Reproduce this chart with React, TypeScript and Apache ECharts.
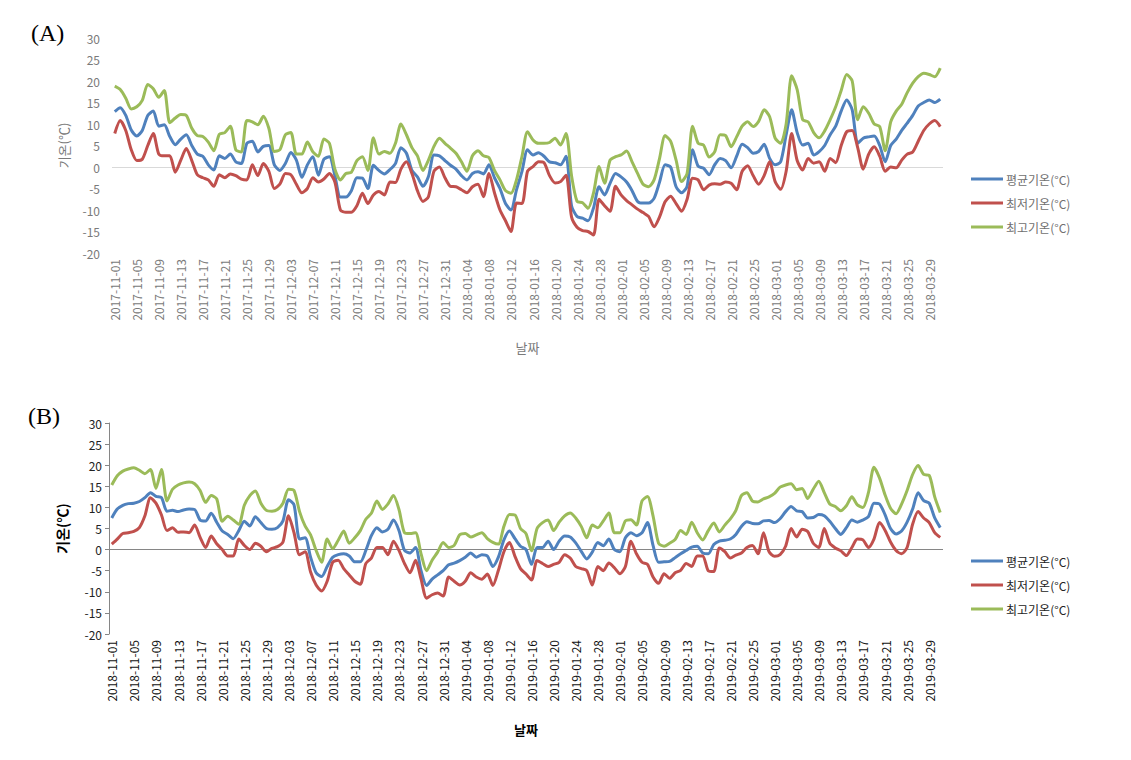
import React, { useEffect, useRef } from "react";
import * as echarts from "echarts";

// ---------- Data ----------
const startA = "2017-11-01";
const startB = "2018-11-01";
const dayCount = 151;
const yTicks = { min: -20, max: 30, step: 5 };
const seriesNames = ["평균기온(°C)", "최저기온(°C)", "최고기온(°C)"];

// Panel A (2017-11-01 .. 2018-03-31)
const avgA = [
  12.9, 13.8, 12, 8.6, 7.2, 8.5, 12, 13, 9.5, 9.8,
  7.1, 5.2, 6.5, 7.5, 5, 3, 2.5, 0.5, -0.7, 2.6,
  2, 3, 1.2, 0.8, 5.5, 6, 3.5, 4.8, 5, 0.5,
  -0.8, 0.8, 3.4, 1.6, -2.4, 0.5, 2.4, -1.9, 1.8, 2.4,
  -2, -7, -7, -5.5, -2.5, -2.6, -5, 0.4, -0.8, -1.6,
  -0.6, 0.8, 4.5, 3.2, -0.8, -2.3, -4.5, -2.2, 2.8, 2.6,
  1.5, 0.4, -0.5, -2, -3, -1.5, -1.1, -1.6, 0.5, -2.5,
  -5, -8.5, -10, -5.3, -1, 4, 2.8, 3.3, 2.5, 1.2,
  1, 0.5, 2.5, -9, -11.5, -11.9, -12.5, -9.5, -4.6, -6.5,
  -3.8, -1.5, -2.3, -3.5, -5.5, -8, -8.4, -8.4, -7.3, -3.5,
  0.5, 0, -4.6, -6, -4.5, 4, 0.2, -0.3, -1.8, 0.5,
  2, 1.5, -0.2, 2.5, 5.3, 4.5, 3.2, 3.6, 5.3, 2,
  0.5, 1.2, 7.5, 13.3, 8, 5.1, 5.5, 2.8, 3.6, 5,
  7.5, 9.5, 13, 15.6, 13.3, 5.5, 6.7, 7, 7.2, 5,
  1.2, 5, 6.5, 8.5, 10.2, 12, 14.2, 15, 15.6, 15, 15.8,
];
const minA = [
  7.8, 10.8, 8.5, 4, 1.5, 1.8, 5, 7.8, 3, 2.6,
  2.6, -1.2, 1.6, 4.3, 1.5, -1.8, -2.5, -3, -4.5, -1.8,
  -2.5, -1.6, -2, -2.8, -3, 0.5, -2, 0.8, -1, -5,
  -4, -1.5, -1.8, -4, -6, -5, -2.5, -3.5, -2.8, -1.5,
  -3.5, -10, -10.5, -10.5, -9, -6.1, -8.5, -6.5, -5.7, -6.5,
  -3.5, -3.6, -0.5, 1.2, -1.5, -5.5, -8, -6.9, -1, 0,
  -2.5, -4.5, -4.6, -5.3, -6, -4.6, -4, -6.9, -1.5, -6,
  -10, -12.5, -15, -8.4, -8.5, -1, 0.1, 1.2, 1, -2,
  -3.7, -3.4, -1.9, -11.6, -14, -14.8, -15, -15.8, -7.5, -9,
  -10.3, -4.5, -6.5, -7.8, -8.8, -9.8, -10.6, -11.5, -13.9, -11.6,
  -8.1, -6.8, -8.5, -10.3, -7.5, -2.6, -3, -5.3, -4.2, -3.9,
  -4, -3.5, -3.8, -5.3, -1, 0.3, -2, -4, -2, 1.2,
  -3.4, -5.2, -1, 7.8, 1.5, -0.7, 2, 0.9, 1.2, -1,
  2, 1, 5, 8.2, 8.5, 4.5, -0.5, 3, 4.7, 2.5,
  -1, 0, -0.2, 1.6, 3, 3.5, 6, 8.5, 10, 10.8, 9.4,
];
const maxA = [
  18.8, 18, 16, 13.5, 14, 15.5, 19.2, 18.2, 16.2, 17.8,
  10.3, 11.4, 12.2, 12, 9, 7.3, 7.1, 5.8, 3.8, 7.6,
  8, 9.5, 4, 3.5, 10.8, 10.5, 9.8, 11.8, 9, 3.6,
  4, 7.5, 8, 3, 3, 5.8, 3.5, 2.5, 6.5, 5.5,
  -0.5, -3, -1.5, -1.2, 1.5, 2.4, -0.8, 6.8, 3, 3.6,
  3.2, 5.5, 10, 7.5, 4.5, 2.6, -0.8, 1.6, 4.8, 6.7,
  5.5, 4.4, 3.2, 1.2, -1, 2.6, 3.8, 2.6, 2.2, -0.8,
  -3, -5.5, -6.1, -3, 2.5, 8.2, 6.3, 5.5, 5.5, 5.7,
  6.7, 5.1, 7.8, -2, -8, -8.3, -9.6, -6, 0.1, -3.8,
  1.6, 2.4, 2.8, 3.7, 1.2, -1.5, -4, -4.6, -3, 2,
  7.3, 6, 1.6, -3.4, -1.5, 9.5, 5.5, 5.1, 2.3, 3.5,
  7.5, 7.3, 4.7, 7, 9.5, 10.5, 9.4, 10.6, 13.3, 11.7,
  6.7, 5.5, 10, 21.2, 18, 11, 10.5, 8, 6.8, 8.4,
  11, 14, 17.8, 21.5, 20, 11, 14, 12.5, 10, 9.4,
  3.8, 10.5, 13, 14.6, 17.3, 19.5, 21, 21.8, 21.5, 21, 23,
];

// Panel B (2018-11-01 .. 2019-03-31)
const avgB = [
  7.5, 9.6, 10.5, 10.9, 11, 11.4, 12.3, 13.5, 12.6, 12.3,
  9.1, 9.3, 9, 9.4, 9.6, 9.5, 7, 6.8, 8.6, 6.5,
  4.4, 3.6, 2.6, 4.5, 6.7, 5.6, 7.8, 6.4, 5, 4.8,
  5.2, 6.8, 11.8, 10.6, 2.5, 2.8, -1.8, -5.5, -6.4, -4,
  -1.8, -1.2, -1, -1.5, -2.9, -2.9, -0.2, 3.3, 5.2, 4.2,
  4.8, 7, 4.5, -0.2, -0.8, 0.5, -5, -8.5, -7, -6,
  -5, -3.6, -3.2, -2.6, -1.8, -0.8, -1.8, -1.2, -1.5, -4,
  -1.8, 2.3, 4.4, 2.6, 0.8, 0, -3.5, 0.5, 0.5, 2,
  0, 2, 3.2, 3, 1.6, -0.4, -2.2, -0.6, 1.7, 0.9,
  2.5, 0, -0.5, 2.8, 4, 3.3, 4, 6.4, 1, -3,
  -2.9, -2.8, -1.9, -1, -0.2, 0.6, 0.8, -0.8, -1, 1.2,
  2, 2.2, 2.5, 3.6, 5.5, 6.6, 6.2, 6.1, 6.8, 6.9,
  6.4, 7.3, 9, 10.2, 9.2, 9, 7.5, 7.6, 8.3, 8,
  6.7, 5, 3.6, 5.2, 7, 6.5, 7, 7.8, 11, 10.8,
  8.3, 5, 3.7, 4.4, 6.5, 9.6, 13.5, 11.6, 11, 7.5, 5.2,
];
const minB = [
  1.3, 2.5, 3.8, 4, 4.3, 5.2, 8, 12.3, 11, 8.2,
  4.5, 5.2, 4.1, 4.2, 4, 5.8, 2.9, 0.5, 3.2, 1.4,
  0, -1.5, -1.5, 2.5, 1, 0, 1.5, 0.8, -0.5, 0.3,
  0.7, 1.8, 8, 4, -1.2, -0.5, -5.3, -8.4, -9.8, -7.5,
  -3, -2.5, -4.5, -6, -7.5, -8.2, -3.3, -2, 0.5, 0.5,
  -1.2, 2, -0.2, -3.3, -5.5, -2.5, -7, -11.5, -10.7, -10.3,
  -11, -6.5, -7.5, -8.4, -7.5, -5.5, -6.5, -7, -5.8, -8.5,
  -4.9, -0.5, 1.7, -1.6, -4.5, -5.8, -7.2, -2.6, -3.3, -4,
  -3.5, -3, -1.2, -2, -4, -4.5, -5, -8.4, -4, -5,
  -3.2, -4.3, -5.7, -4, 2, -1, -3, -3.5, -6.5, -8,
  -5.7, -6.8, -5.5, -4.9, -3.3, -4, -1.5, -1.5, -5, -5.2,
  0.4, -0.5, -2, -1.3, -0.8, 0.5, 1, -1, 4, -0.5,
  -1.6, -1.2, 0.8, 5, 3, 4.8, 4.3, 1.5, 0.5, 5,
  1.5, 0.4, -0.3, -1.4, 0.5, 2.5, 2.3, 0.5, 2.5, 6.4,
  4.6, 1.8, -0.2, -1, 0.5, 6, 9, 7.5, 6.4, 4, 2.9,
];
const maxB = [
  15.3, 17.5, 18.6, 19.1, 19.4, 18.8, 18, 19, 14.5, 19,
  11.5, 14.3, 15.3, 15.8, 16, 15.6, 14, 11.2, 12.8, 12,
  6.7, 7.9, 7, 6, 10.5, 12.8, 13.9, 11, 9.3, 9.1,
  9.5, 11, 14.3, 14, 9, 5.6, 3.5, -0.2, -3, 2.5,
  0.2, 2.2, 4.4, 1.5, 2.8, 4.5, 7.2, 8.6, 11.5, 9.5,
  10.8, 12.8, 9.5, 4, 3.8, 4, -1, -5, -2.5, -0.6,
  1.7, 0.5, 1, 3.5, 3.8, 3, 3.5, 4, 2.6, 1.7,
  1.3, 5.5, 8.3, 8.2, 5, 3.8, -0.3, 5, 6.4, 7,
  4.5, 6.5, 8, 8.7, 7.5, 5.5, 2.8, 5.8, 5.2, 6.8,
  8.7, 4, 4, 6.8, 7.1, 5.8, 11.5, 12.6, 8, 1.5,
  0.8, 1.5, 2.4, 4.5, 3.6, 6.5, 4, 2.3, 4.5, 6.3,
  4.2, 5.8, 7.3, 9.3, 12.8, 13.5, 11.5, 11.3, 12, 12.5,
  13.3, 14.8, 15.3, 15.6, 14.2, 14.5, 12.1, 14.3, 16.2, 13.5,
  10.8, 10.2, 9.2, 10.4, 12.5, 10.6, 10, 13.5, 19.5, 17,
  13, 9.8, 8.5, 10.8, 14, 17.8, 19.9, 17.8, 17.6, 12.5, 8.8,
];

const colors = { avg: "#4f81bd", min: "#c0504d", max: "#9bbb59" };

function makeDates(start: string, n: number): string[] {
  const [y, m, d] = start.split("-").map(Number);
  const base = Date.UTC(y, m - 1, d);
  const out: string[] = [];
  for (let i = 0; i < n; i++) {
    const dt = new Date(base + i * 86400000);
    const mm = String(dt.getUTCMonth() + 1).padStart(2, "0");
    const dd = String(dt.getUTCDate()).padStart(2, "0");
    out.push(`${dt.getUTCFullYear()}-${mm}-${dd}`);
  }
  return out;
}

const datesA = makeDates(startA, dayCount);
const datesB = makeDates(startB, dayCount);

const FONT = "'Noto Sans CJK KR', 'Noto Sans', sans-serif";

export default function App() {
  const ref = useRef<HTMLDivElement>(null);

  useEffect(() => {
    if (!ref.current) return;
    const chart = echarts.init(ref.current, undefined, { renderer: "svg" });

    const lineSeries = (
      name: string,
      data: number[],
      color: string,
      idx: number,
      zeroColor?: string
    ) => {
      const s: any = {
        name,
        type: "line",
        xAxisIndex: idx,
        yAxisIndex: idx,
        data,
        smooth: 0.25,
        showSymbol: false,
        symbol: "none",
        lineStyle: { color, width: 3 },
        itemStyle: { color },
        z: 3,
      };
      if (zeroColor) {
        s.markLine = {
          silent: true,
          symbol: ["none", "none"],
          label: { show: false },
          lineStyle: { color: zeroColor, width: 1, type: "solid" },
          data: [{ yAxis: 0 }],
          z: 1,
        };
      }
      return s;
    };

    const legendBase = (top: number, color: string) => ({
      orient: "vertical",
      left: 966,
      top,
      icon: "rect",
      itemWidth: 32,
      itemHeight: 3,
      itemGap: 12,
      data: seriesNames,
      textStyle: { color, fontSize: 12, fontFamily: FONT, padding: [0, 0, 0, -2] },
    });

    const option: any = {
      animation: false,
      backgroundColor: "#ffffff",
      textStyle: { fontFamily: FONT },
      grid: [
        { left: 112, top: 38, width: 831, height: 215 },
        { left: 109, top: 423, width: 834, height: 211 },
      ],
      legend: [legendBase(168, "#6f6f6f"), legendBase(550, "#222222")],
      graphic: [
        {
          type: "text",
          left: 31,
          top: 21,
          style: { text: "(A)", font: "24px 'Liberation Serif', serif", fill: "#000" },
        },
        {
          type: "text",
          left: 28,
          top: 404,
          style: { text: "(B)", font: "24px 'Liberation Serif', serif", fill: "#000" },
        },
      ],
      xAxis: [
        {
          type: "category",
          gridIndex: 0,
          data: datesA,
          boundaryGap: true,
          axisLine: { show: false },
          axisTick: { show: false },
          splitLine: { show: false },
          axisLabel: {
            interval: 3,
            rotate: 90,
            fontSize: 12,
            color: "#7a7a7a",
            margin: 6,
            fontFamily: FONT,
          },
          name: "날짜",
          nameLocation: "middle",
          nameGap: 88,
          nameTextStyle: { color: "#7a7a7a", fontSize: 13, fontFamily: FONT },
        },
        {
          type: "category",
          gridIndex: 1,
          data: datesB,
          boundaryGap: true,
          axisLine: { show: false },
          axisTick: { show: false },
          splitLine: { show: false },
          axisLabel: {
            interval: 3,
            rotate: 90,
            fontSize: 12,
            color: "#111",
            margin: 6,
            fontFamily: FONT,
          },
          name: "날짜",
          nameLocation: "middle",
          nameGap: 89,
          nameTextStyle: { color: "#000", fontSize: 13, fontWeight: "bold", fontFamily: FONT },
        },
      ],
      yAxis: [
        {
          type: "value",
          gridIndex: 0,
          min: yTicks.min,
          max: yTicks.max,
          interval: yTicks.step,
          axisLine: { show: false },
          axisTick: { show: false },
          splitLine: { show: false },
          axisLabel: { color: "#7a7a7a", fontSize: 12, margin: 12, fontFamily: FONT },
          name: "기온(℃)",
          nameLocation: "middle",
          nameGap: 42,
          nameTextStyle: { color: "#7a7a7a", fontSize: 13, fontFamily: FONT },
        },
        {
          type: "value",
          gridIndex: 1,
          min: yTicks.min,
          max: yTicks.max,
          interval: yTicks.step,
          axisLine: { show: true, lineStyle: { color: "#868686", width: 1 } },
          axisTick: { show: true, length: 4, lineStyle: { color: "#868686" } },
          splitLine: { show: false },
          axisLabel: { color: "#222", fontSize: 12, margin: 7, fontFamily: FONT },
          name: "기온(℃)",
          nameLocation: "middle",
          nameGap: 40,
          nameTextStyle: { color: "#000", fontSize: 14, fontWeight: "bold", fontFamily: FONT },
        },
      ],
      series: [
        lineSeries(seriesNames[0], avgA, colors.avg, 0, "#d9d9d9"),
        lineSeries(seriesNames[1], minA, colors.min, 0),
        lineSeries(seriesNames[2], maxA, colors.max, 0),
        lineSeries(seriesNames[0], avgB, colors.avg, 1, "#868686"),
        lineSeries(seriesNames[1], minB, colors.min, 1),
        lineSeries(seriesNames[2], maxB, colors.max, 1),
      ],
    };

    chart.setOption(option);
    return () => chart.dispose();
  }, []);

  return (
    <div
      ref={ref}
      style={{ position: "fixed", left: 0, top: 0, width: 1131, height: 760, background: "#fff" }}
    />
  );
}
